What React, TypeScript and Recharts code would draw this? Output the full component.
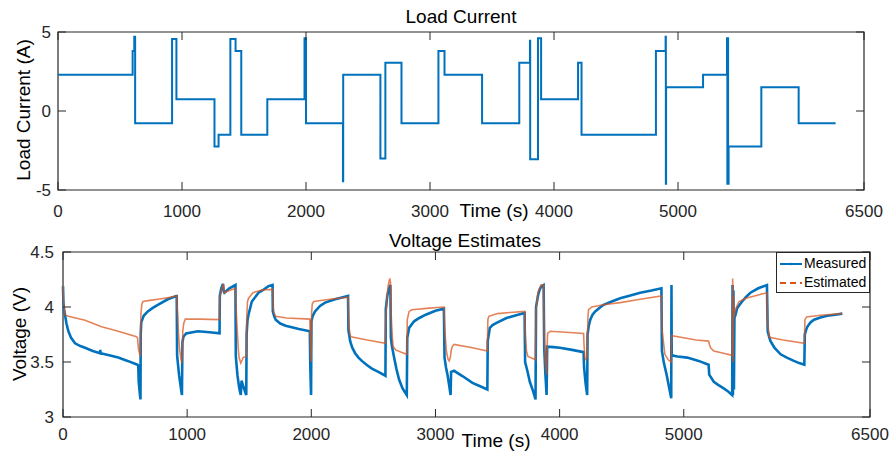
import React from 'react';
import { LineChart, Line, XAxis, YAxis, ReferenceArea } from 'recharts';

const AXIS = '#262626';
const BLUE = '#0072BD';
const ORANGE = '#D95319';
const FONT = '"Liberation Sans", Arial, Helvetica, sans-serif';
const TICK_LEN = 8;

const timeTicks = [0, 1000, 2000, 3000, 4000, 5000, 6500];
const currentTicks = [-5, 0, 5];
const voltageTicks = [3, 3.5, 4, 4.5];

// load current profile (step after each time)
const currentTime = [
  0, 602, 615, 622, 920, 955, 1262, 1295, 1390, 1432, 1478, 1688, 1988, 2000, 2298, 2300,
  2600, 2640, 2770, 3068, 3117, 3420, 3720, 3806, 3808, 3871, 3896, 4194, 4222, 4822, 4900,
  4902, 4904, 5202, 5395, 5398, 5401, 5404, 5408, 5672, 5973, 6271,
];
const currentAmps = [
  2.3, 3.8, 4.7, -0.77, 4.55, 0.75, -2.25, -1.5, 4.55, 3.8, -1.5, 0.75, 4.6, -0.77, -4.45, 2.3,
  -3.0, 3.05, -0.77, 3.8, 2.3, -0.77, 3.05, 4.45, -3.05, 4.6, 0.75, 3.05, -1.5, 3.8, 4.7,
  -4.6, 1.5, 2.3, 4.6, -4.6, 4.6, -4.6, -2.25, 1.5, -0.77, -0.77,
];

const measuredTime = [
  0, 3, 8, 16, 28, 43, 65, 97, 140, 177, 240, 298, 300, 303, 380, 445, 520, 600, 606, 610, 620, 624,
  626, 630, 650, 683, 720, 764, 844, 912, 916, 919, 935, 950, 958, 962, 970, 992, 1086, 1180, 1261,
  1263, 1275, 1288, 1295, 1300, 1340, 1389, 1392, 1405, 1420, 1432, 1438, 1455, 1476, 1479, 1486,
  1494, 1521, 1575, 1606, 1655, 1688, 1690, 1700, 1713, 1750, 1793, 1900, 1988, 1992, 1998, 2001,
  2012, 2030, 2070, 2111, 2192, 2296, 2299, 2313, 2330, 2353, 2380, 2407, 2450, 2488, 2540, 2597,
  2600, 2612, 2625, 2637, 2641, 2650, 2667, 2685, 2707, 2735, 2769, 2773, 2788, 2828, 2870, 2922,
  3000, 3068, 3073, 3085, 3097, 3110, 3122, 3126, 3150, 3220, 3298, 3360, 3418, 3421, 3438, 3460,
  3492, 3572, 3650, 3718, 3722, 3740, 3760, 3785, 3806, 3810, 3827, 3840, 3854, 3871, 3876, 3885,
  3895, 3900, 3950, 4002, 4100, 4193, 4197, 4210, 4222, 4225, 4235, 4247, 4265, 4287, 4320, 4354,
  4420, 4488, 4570, 4649, 4740, 4820, 4824, 4840, 4862, 4880, 4899, 4901, 4903, 4950, 5028, 5120,
  5200, 5205, 5242, 5280, 5322, 5360, 5390, 5393, 5396, 5400, 5404, 5408, 5417, 5430, 5450, 5470,
  5500, 5537, 5600, 5670, 5676, 5690, 5699, 5730, 5780, 5830, 5887, 5930, 5971, 5975, 5985, 5995,
  6020, 6049, 6100, 6156, 6220, 6277,
];
const measuredVolts = [
  4.19, 4.05, 3.98, 3.93, 3.85, 3.78, 3.72, 3.67, 3.645, 3.63, 3.6, 3.58, 3.61, 3.58, 3.56, 3.54, 3.51, 3.475, 3.47, 3.32, 3.2, 3.16,
  3.75, 3.86, 3.92, 3.96, 3.99, 4.02, 4.07, 4.1, 4.1, 3.56, 3.38, 3.26, 3.2, 3.68, 3.73, 3.76, 3.78, 3.77, 3.76,
  4.1, 4.17, 4.21, 4.14, 4.13, 4.17, 4.2, 3.55, 3.38, 3.26, 3.2, 3.33, 3.27, 3.2, 3.75, 3.88,
  3.93, 4.05, 4.13, 4.15, 4.19, 4.2, 3.96, 3.92, 3.885, 3.85, 3.83, 3.8, 3.78, 3.45, 3.2, 3.87,
  3.92, 3.96, 4.01, 4.04, 4.07, 4.1, 3.79, 3.69, 3.63, 3.58, 3.54, 3.51, 3.47, 3.44, 3.41, 3.375,
  3.98, 4.1, 4.17, 4.2, 3.72, 3.64, 3.54, 3.44, 3.34, 3.26, 3.2, 3.72, 3.81, 3.87, 3.9, 3.93,
  3.965, 3.985, 3.54, 3.45, 3.385, 3.29, 3.2, 3.41, 3.42, 3.37, 3.31, 3.28, 3.25, 3.69, 3.81, 3.835,
  3.855, 3.9, 3.925, 3.945, 3.5, 3.42, 3.32, 3.24, 3.16, 4.0, 4.11, 4.16, 4.19, 4.2, 3.63, 3.4,
  3.2, 3.64, 3.635, 3.63, 3.61, 3.59, 3.45, 3.3, 3.2, 3.75, 3.83, 3.885, 3.93, 3.96, 3.99, 4.02,
  4.05, 4.08, 4.105, 4.13, 4.15, 4.17, 3.6, 3.49, 3.385, 3.28, 3.17, 4.2, 3.56, 3.55, 3.54, 3.51,
  3.475, 3.385, 3.32, 3.29, 3.26, 3.23, 3.2, 4.2, 3.2, 4.15, 3.25, 3.9, 3.93, 3.99, 4.02, 4.05,
  4.09, 4.13, 4.17, 4.2, 3.78, 3.72, 3.69, 3.63, 3.57, 3.54, 3.51, 3.49, 3.475, 3.75, 3.79, 3.82,
  3.86, 3.885, 3.905, 3.92, 3.93, 3.94,
];

const estimatedTime = [
  0, 5, 16, 43, 177, 311, 445, 592, 600, 608, 622, 628, 636, 644, 700, 764, 850, 916, 920, 924, 930,
  938, 948, 957, 961, 965, 972, 985, 1100, 1261, 1264, 1280, 1293, 1299, 1340, 1389, 1396, 1404,
  1412, 1418, 1432, 1440, 1445, 1450, 1476, 1480, 1486, 1495, 1530, 1600, 1688, 1692, 1700, 1713,
  1800, 1988, 1993, 1998, 2003, 2008, 2020, 2150, 2296, 2300, 2305, 2313, 2320, 2450, 2597, 2601,
  2610, 2620, 2632, 2638, 2643, 2648, 2653, 2659, 2680, 2720, 2769, 2773, 2788, 2810, 2950, 3068,
  3073, 3080, 3088, 3100, 3110, 3120, 3126, 3135, 3150, 3298, 3418, 3422, 3430, 3500, 3600, 3718,
  3724, 3733, 3745, 3806, 3810, 3827, 3850, 3871, 3876, 3885, 3895, 3899, 3903, 3925, 4050, 4193,
  4197, 4203, 4215, 4222, 4228, 4233, 4260, 4350, 4488, 4650, 4820, 4826, 4848, 4875, 4899, 4903,
  5000, 5100, 5200, 5207, 5216, 5242, 5320, 5390, 5394, 5397, 5401, 5405, 5410, 5425, 5445, 5500,
  5600, 5670, 5676, 5690, 5800, 5971, 5976, 5990, 6100, 6277,
];
const estimatedVolts = [
  4.19, 4.05, 3.93, 3.915, 3.88, 3.82, 3.78, 3.73, 3.72, 3.62, 3.55, 3.95, 4.03, 4.05, 4.06, 4.07, 4.085, 4.1, 3.98, 3.93, 3.76,
  3.63, 3.54, 3.49, 3.6, 3.78, 3.85, 3.89, 3.89, 3.885, 4.1, 4.17, 4.21, 4.13, 4.15, 4.17, 3.95, 3.78,
  3.62, 3.54, 3.49, 3.51, 3.52, 3.54, 3.55, 3.9, 4.05, 4.08, 4.13, 4.155, 4.16, 4.0, 3.945, 3.915,
  3.9, 3.89, 3.62, 3.5, 3.96, 4.03, 4.05, 4.07, 4.09, 3.9, 3.81, 3.74, 3.73, 3.7, 3.67, 3.92,
  4.1, 4.2, 4.26, 4.22, 3.95, 3.81, 3.72, 3.64, 3.61, 3.59, 3.57, 3.885, 3.96, 3.975, 3.99, 4.0,
  3.83, 3.72, 3.6, 3.53, 3.51, 3.54, 3.6, 3.64, 3.66, 3.63, 3.6, 3.885, 3.915, 3.94, 3.95, 3.96,
  3.75, 3.6, 3.55, 3.52, 3.98, 4.14, 4.2, 4.2, 3.69, 3.5, 3.385, 3.6, 3.76, 3.78, 3.77, 3.76,
  3.65, 3.54, 3.52, 3.55, 3.9, 3.975, 4.0, 4.02, 4.04, 4.07, 4.1, 3.78, 3.57, 3.52, 3.5, 3.74,
  3.72, 3.7, 3.69, 3.66, 3.63, 3.6, 3.58, 3.56, 4.26, 3.5, 4.1, 3.9, 3.95, 4.0, 4.05, 4.08,
  4.11, 4.13, 3.84, 3.725, 3.7, 3.67, 3.885, 3.91, 3.925, 3.94,
];

const currentData = currentTime.map((t, i) => ({ t, a: currentAmps[i] }));
const measuredData = measuredTime.map((t, i) => ({ t, v: measuredVolts[i] }));
const estimatedData = estimatedTime.map((t, i) => ({ t, v: estimatedVolts[i] }));

// inward MATLAB-style ticks on both sides of the box
const makeXTick = (top: number, bottom: number, labelY: number) => (props: any) => {
  const { x, payload } = props;
  return (
    <g>
      <line x1={x} y1={bottom} x2={x} y2={bottom - TICK_LEN} stroke={AXIS} />
      <line x1={x} y1={top} x2={x} y2={top + TICK_LEN} stroke={AXIS} />
      <text x={x} y={labelY} textAnchor="middle" fontSize={17} fill={AXIS} fontFamily={FONT}>
        {payload.value}
      </text>
    </g>
  );
};

const makeYTick = (left: number, right: number, gap: number) => (props: any) => {
  const { y, payload } = props;
  return (
    <g>
      <line x1={left} y1={y} x2={left + TICK_LEN} y2={y} stroke={AXIS} />
      <line x1={right} y1={y} x2={right - TICK_LEN} y2={y} stroke={AXIS} />
      <text x={left - gap} y={y} dy="0.36em" textAnchor="end" fontSize={17} fill={AXIS} fontFamily={FONT}>
        {payload.value}
      </text>
    </g>
  );
};

const legendItems = [
  { name: 'Measured', color: BLUE, dash: undefined },
  { name: 'Estimated', color: ORANGE, dash: '6 4' },
];

const VoltageLegend = () => (
  <div
    style={{
      position: 'absolute',
      left: 776,
      top: 252,
      width: 94,
      height: 41,
      boxSizing: 'border-box',
      border: `1px solid ${AXIS}`,
      background: '#fff',
      fontFamily: FONT,
      fontSize: 14,
      color: '#000',
      paddingTop: 1,
    }}
  >
    {legendItems.map((item) => (
      <div key={item.name} style={{ display: 'flex', alignItems: 'center', height: 19 }}>
        <svg width={27} height={19} style={{ display: 'block' }}>
          <line x1={3} y1={10} x2={25} y2={10} stroke={item.color} strokeWidth={2} strokeDasharray={item.dash} />
          {item.dash ? null : <circle cx={14} cy={10} r={1.2} fill={item.color} />}
        </svg>
        <span style={{ lineHeight: '19px' }}>{item.name}</span>
      </div>
    ))}
  </div>
);

const textStyle = { fontFamily: FONT, fill: '#000' };

export default function App() {
  return (
    <div style={{ position: 'absolute', left: 0, top: 0, width: 892, height: 456, background: '#fff' }}>
      <div style={{ position: 'absolute', left: 0, top: 0 }}>
        <LineChart width={892} height={228} data={currentData} margin={{ top: 32, right: 28, bottom: 0, left: 0 }}>
          <XAxis
            type="number"
            dataKey="t"
            domain={[0, 6500]}
            ticks={timeTicks}
            interval={0}
            height={38}
            axisLine={false}
            tickLine={false}
            tick={makeXTick(32, 190, 217)}
          />
          <YAxis
            type="number"
            domain={[-5, 5]}
            ticks={currentTicks}
            interval={0}
            width={58}
            axisLine={false}
            tickLine={false}
            tick={makeYTick(58, 864, 7)}
          />
          <ReferenceArea x1={0} x2={6500} y1={-5} y2={5} fill="none" stroke={AXIS} strokeWidth={1.2} fillOpacity={0} />
          <Line
            type="stepAfter"
            dataKey="a"
            stroke={BLUE}
            strokeWidth={2}
            dot={false}
            isAnimationActive={false}
          />
        </LineChart>
      </div>
      <div style={{ position: 'absolute', left: 0, top: 228 }}>
        <LineChart width={892} height={228} margin={{ top: 24, right: 22, bottom: 0, left: 0 }}>
          <XAxis
            type="number"
            dataKey="t"
            domain={[0, 6500]}
            ticks={timeTicks}
            interval={0}
            height={39}
            axisLine={false}
            tickLine={false}
            allowDuplicatedCategory={false}
            tick={makeXTick(24, 189, 212)}
          />
          <YAxis
            type="number"
            domain={[3, 4.5]}
            ticks={voltageTicks}
            interval={0}
            width={63}
            axisLine={false}
            tickLine={false}
            tick={makeYTick(63, 870, 9)}
          />
          <ReferenceArea x1={0} x2={6500} y1={3} y2={4.5} fill="none" stroke={AXIS} strokeWidth={1.2} fillOpacity={0} />
          <Line
            data={measuredData}
            type="linear"
            dataKey="v"
            name="Measured"
            stroke={BLUE}
            strokeWidth={2.6}
            dot={false}
            isAnimationActive={false}
          />
          <Line
            data={estimatedData}
            type="linear"
            dataKey="v"
            name="Estimated"
            stroke={ORANGE}
            strokeOpacity={0.72}
            strokeWidth={1.6}
            dot={false}
            isAnimationActive={false}
          />
        </LineChart>
      </div>
      <VoltageLegend />
      <svg width={892} height={456} style={{ position: 'absolute', left: 0, top: 0, pointerEvents: 'none' }}>
        <text x={461} y={23} textAnchor="middle" fontSize={19} {...textStyle}>Load Current</text>
        <text x={465} y={247} textAnchor="middle" fontSize={19} {...textStyle}>Voltage Estimates</text>
        <text x={494} y={217} textAnchor="middle" fontSize={19} {...textStyle}>Time (s)</text>
        <text x={496} y={447} textAnchor="middle" fontSize={19} {...textStyle}>Time (s)</text>
        <text x={30} y={110} textAnchor="middle" fontSize={19} transform="rotate(-90 30 110)" {...textStyle}>
          Load Current (A)
        </text>
        <text x={26} y={334} textAnchor="middle" fontSize={19} transform="rotate(-90 26 334)" {...textStyle}>
          Voltage (V)
        </text>
      </svg>
    </div>
  );
}
